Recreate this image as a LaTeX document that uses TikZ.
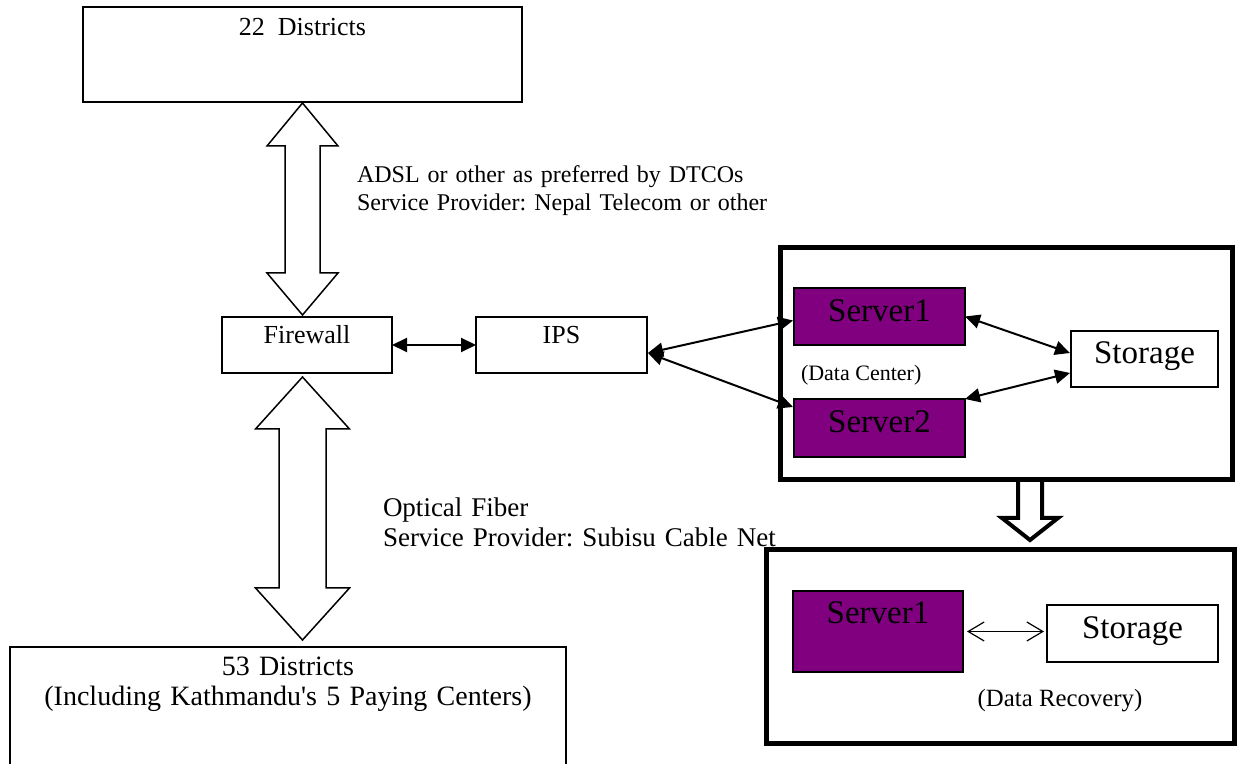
\documentclass[tikz,border=0pt]{standalone}
\usepackage{fontspec}
\setmainfont{Liberation Serif}
\frenchspacing
\usepackage{tikz}
\usetikzlibrary{
  arrows.meta,
  calc,
  positioning,
}
\definecolor{srvpurple}{RGB}{128,0,128}
\tikzset{
  x = 0.5pt,
  y = -0.5pt,
  box/.style={
    draw, line width=0.75pt, align=center,
    inner sep=0pt, outer sep=0pt,
  },
  srv/.style={box, fill=srvpurple, font=\fontsize{16.5}{19}\selectfont},
  site/.style={draw, line width=2.5pt, inner sep=0pt, outer sep=0pt},
  txt/.style={inner sep=0pt, outer sep=0pt, align=left},
  >={Triangle[length=7.5pt,width=7pt]},
  link/.style={<->, line width=1pt},
  hollow/.style={draw, fill=white, line width=0.75pt, line join=miter},
  barb/.style={<->, line width=0.6pt, >={Straight Barb[length=8pt,width=9.5pt]}},
}

\begin{document}
\begin{tikzpicture}
  \useasboundingbox (0,0) rectangle (1239,764);
  \node[box, minimum width=219.5pt, text height=14.5pt, text depth=33pt,
    font=\fontsize{13}{15}\selectfont](D22) at (302.5,54.5){22~~Districts};
  \node[box, minimum width=85pt, text height=13.5pt, text depth=14.5pt,
    font=\fontsize{13}{15}\selectfont](Fw) at (307,345){Firewall};
  \node[box, minimum width=85.5pt, text height=13.5pt, text depth=14.5pt,
    font=\fontsize{13}{15}\selectfont, right=42pt of Fw](Ips){IPS};
  \node[box, text width=278pt, text height=14.5pt, text depth=45pt,
    font=\fontsize{14}{15}\selectfont](D53) at (288,706.5)
    {53 Districts\\(Including Kathmandu\textquotesingle s 5 Paying Centers)};
  %%
  \node[site, minimum width=226pt, minimum height=116pt](Dc) at (1006,364){};
  \node[srv, minimum width=85.5pt, text height=17pt, text depth=11.5pt](Srv1)
    at (879.5,316.5){Server1};
  \node[srv, minimum width=85.5pt, text height=17pt, text depth=12pt,
    below=27pt of Srv1](Srv2){Server2};
  \node[box, minimum width=73.5pt, text height=16.5pt, text depth=11.5pt,
    font=\fontsize{16.5}{19}\selectfont](Stor) at (1144.5,359){Storage};
  \node[txt, anchor=base west, font=\fontsize{11}{13}\selectfont](DcLbl)
    at (801,381){(Data Center)};
  %%
  \node[site, minimum width=234pt, minimum height=97pt](Dr) at (1000,647){};
  \node[srv, minimum width=85pt, text height=16.5pt, text depth=24pt](RSrv)
    at (878,631.5){Server1};
  \node[box, minimum width=85.5pt, text height=17pt, text depth=11.5pt,
    font=\fontsize{16.5}{19}\selectfont](RStor) at (1132.5,633.5){Storage};
  \node[txt, anchor=base, font=\fontsize{12.4}{14}\selectfont](DrLbl)
    at (1060,707){(Data Recovery)};
  %%
  \node[txt, text width=215pt, anchor=base west, font=\fontsize{12}{14}\selectfont](Adsl)
    at (357,183){ADSL or other as preferred by DTCOs\\Service Provider: Nepal Telecom or other};
  \node[txt, text width=205pt, anchor=base west, font=\fontsize{13.5}{15}\selectfont](Ofc)
    at (383,517){Optical Fiber\\Service Provider: Subisu Cable Net};
  %%
  \coordinate(up1) at ($(D22.south)+(0,1)$);
  \coordinate(up2) at ($(D22.south |- Fw.north)+(0,-2)$);
  \draw[hollow](up1) -- ++(35.5,43) -- ++(-18,0) -- ($(up2)+(17.5,-42)$)
    -- ++(18,0) -- (up2) -- ++(-35.5,-42) -- ++(18,0)
    -- ($(up1)+(-17.5,43)$) -- ++(-18,0) -- cycle;
  \coordinate(lo1) at ($(D22.south |- Fw.south)+(0,4)$);
  \coordinate(lo2) at ($(D22.south |- D53.north)+(0,-7)$);
  \draw[hollow](lo1) -- ++(47,52) -- ++(-23.5,0) -- ($(lo2)+(23.5,-52)$)
    -- ++(23.5,0) -- (lo2) -- ++(-47,-52) -- ++(23.5,0)
    -- ($(lo1)+(-23.5,52)$) -- ++(-23.5,0) -- cycle;
  \draw[line width=2pt, line join=miter]($(Dc.south)+(12,0)$) -- ++(0,38)
    -- ++(-16,0) -- ($(Dc.south)+(24,60)$) -- ++(28,-22) -- ++(-16,0) -- ++(0,-38);
  %%
  \draw[link](Fw) -- (Ips);
  \coordinate(IpsP) at ($(Ips.east)+(1,8)$);
  \draw[link](IpsP) -- ($(Srv1.west)+(-1,4)$);
  \draw[link](IpsP) -- ($(Srv2.north west)+(-1,8)$);
  \draw[link](Srv1.east) -- ($(Stor.west)+(-1,-6)$);
  \draw[link](Srv2.north east) -- ($(Stor.west)+(-1,14)$);
  \draw[barb]($(RSrv.east)+(4,0)$) -- ($(RSrv.east -| RStor.west)+(-3,0)$);
\end{tikzpicture}
\end{document}
